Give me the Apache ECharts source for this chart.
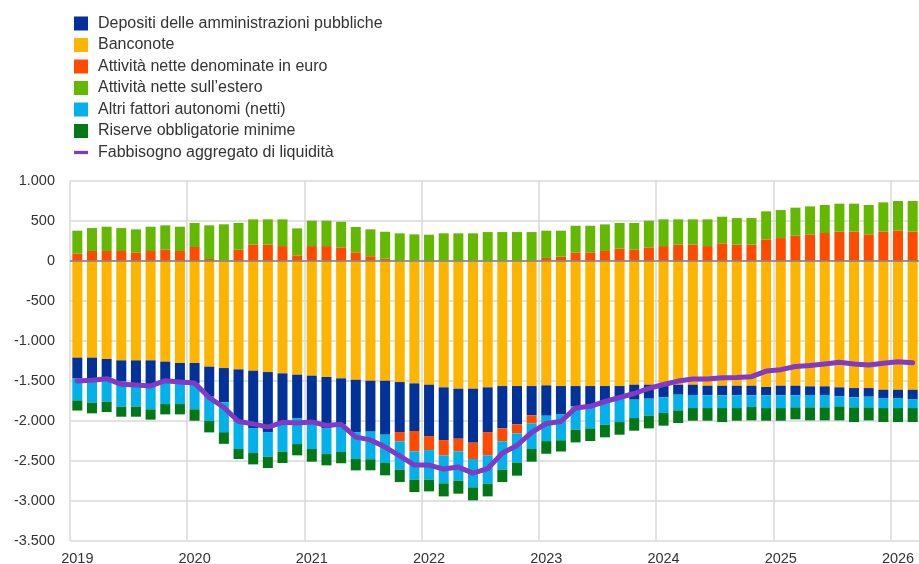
<!DOCTYPE html>
<html>
<head>
<meta charset="utf-8">
<script src="https://cdn.jsdelivr.net/npm/echarts@6/dist/echarts.min.js"></script>
<style>
  html, body { margin: 0; padding: 0; background: #ffffff; }
  #chart { width: 919px; height: 564px; }
</style>
</head>
<body>
<div id="chart"></div>
<script>
// Reserve maintenance periods (8 per year), 2019 to early 2026
const periods = [
  '2019 P1','2019 P2','2019 P3','2019 P4','2019 P5','2019 P6','2019 P7','2019 P8',
  '2020 P1','2020 P2','2020 P3','2020 P4','2020 P5','2020 P6','2020 P7','2020 P8',
  '2021 P1','2021 P2','2021 P3','2021 P4','2021 P5','2021 P6','2021 P7','2021 P8',
  '2022 P1','2022 P2','2022 P3','2022 P4','2022 P5','2022 P6','2022 P7','2022 P8',
  '2023 P1','2023 P2','2023 P3','2023 P4','2023 P5','2023 P6','2023 P7','2023 P8',
  '2024 P1','2024 P2','2024 P3','2024 P4','2024 P5','2024 P6','2024 P7','2024 P8',
  '2025 P1','2025 P2','2025 P3','2025 P4','2025 P5','2025 P6','2025 P7','2025 P8',
  '2026 P1','2026 P2'
];

// EUR billions
const banconote = [-1212,-1212,-1229,-1246,-1246,-1246,-1262,-1279,-1279,-1325,
  -1342,-1358,-1375,-1392,-1408,-1425,-1437,-1454,-1471,-1488,
  -1500,-1500,-1517,-1533,-1550,-1583,-1600,-1600,-1583,-1567,
  -1567,-1567,-1558,-1567,-1567,-1567,-1567,-1567,-1550,-1550,
  -1558,-1550,-1550,-1563,-1563,-1563,-1563,-1579,-1563,-1563,
  -1571,-1571,-1583,-1592,-1592,-1613,-1613,-1613];

const depositi = [-262,-259,-225,-266,-287,-308,-242,-233,-254,-375,
  -428,-654,-717,-750,-621,-542,-575,-638,-570,-654,
  -637,-675,-625,-596,-642,-659,-625,-675,-559,-529,
  -479,-366,-380,-356,-254,-254,-212,-150,-187,-175,
  -150,-125,-129,-120,-120,-120,-120,-104,-120,-120,
  -108,-108,-113,-116,-108,-104,-104,-117];

const attivitaEuro = [87,121,121,121,104,121,137,121,171,21,
  5,137,200,200,183,67,183,183,167,104,
  56,25,-116,-254,-175,-191,-158,-204,-291,-162,
  -113,-100,35,50,104,104,121,150,137,167,
  183,200,200,183,217,200,200,267,283,313,
  329,346,363,363,329,363,379,363];

const attivitaEstero = [288,287,304,287,288,304,305,304,300,421,
  450,334,317,317,334,337,317,317,320,317,
  336,337,342,329,325,342,342,342,358,358,
  358,358,340,325,333,333,333,321,334,333,
  334,317,317,334,333,333,333,350,350,350,
  350,350,350,350,367,366,367,383];

const altriFattori = [-272,-304,-308,-313,-292,-304,-288,-280,-325,-304,
  -374,-342,-312,-308,-359,-325,-342,-325,-350,-337,
  -345,-354,-354,-354,-370,-350,-367,-354,-354,-354,
  -366,-321,-317,-322,-291,-275,-271,-300,-230,-212,
  -196,-196,-163,-159,-159,-159,-146,-159,-159,-150,
  -154,-154,-125,-125,-134,-125,-125,-112];

const riserve = [-127,-133,-130,-125,-125,-129,-129,-129,-142,-142,
  -145,-125,-142,-142,-141,-141,-158,-141,-141,-142,
  -138,-154,-155,-155,-146,-163,-162,-163,-159,-155,
  -162,-158,-158,-140,-159,-158,-158,-158,-158,-159,
  -158,-158,-158,-158,-175,-158,-167,-158,-158,-150,
  -163,-163,-175,-184,-162,-175,-175,-175];

const fabbisogno = [-1505,-1495,-1475,-1545,-1555,-1565,-1500,-1515,-1530,-1710,
  -1835,-2010,-2040,-2080,-2020,-2030,-2015,-2060,-2045,-2205,
  -2240,-2330,-2440,-2555,-2555,-2605,-2580,-2655,-2600,-2405,
  -2310,-2145,-2035,-2010,-1840,-1820,-1760,-1710,-1660,-1595,
  -1548,-1505,-1480,-1478,-1462,-1460,-1450,-1380,-1362,-1322,
  -1310,-1290,-1270,-1290,-1305,-1282,-1262,-1275];

const yTicks = { min: -3500, max: 1000, step: 500 };

const names = {
  dep: 'Depositi delle amministrazioni pubbliche',
  ban: 'Banconote',
  eur: 'Attività nette denominate in euro',
  est: 'Attività nette sull\u2019estero',
  alt: 'Altri fattori autonomi (netti)',
  ris: 'Riserve obbligatorie minime',
  fab: 'Fabbisogno aggregato di liquidità'
};

const colors = {
  dep: '#003299', ban: '#ffb400', eur: '#ff4b00', est: '#65b800',
  alt: '#00b1ea', ris: '#007816', fab: '#8139c6'
};

const FONT = '"Liberation Sans", Arial, sans-serif';
const TEXT = '#333333';

function thousands(v) {
  const s = String(Math.abs(v)).replace(/\B(?=(\d{3})+(?!\d))/g, '.');
  return (v < 0 ? '-' : '') + s;
}

function barSeries(key, data) {
  return {
    name: names[key],
    type: 'bar',
    stack: 'fattori',
    data: data,
    barWidth: 10,
    itemStyle: { color: colors[key] },
    emphasis: { disabled: true }
  };
}

const zeroLine = {
  silent: true,
  symbol: ['none', 'none'],
  label: { show: false },
  lineStyle: { color: '#7f7f7f', width: 1.5, type: 'solid' },
  data: [{ yAxis: 0 }]
};

const series = [
  Object.assign(barSeries('ban', banconote), { markLine: zeroLine }),
  barSeries('dep', depositi),
  barSeries('eur', attivitaEuro),
  barSeries('est', attivitaEstero),
  barSeries('alt', altriFattori),
  barSeries('ris', riserve),
  {
    name: names.fab,
    type: 'line',
    data: fabbisogno,
    symbol: 'none',
    z: 5,
    lineStyle: { color: colors.fab, width: 5, cap: 'round', join: 'round' },
    itemStyle: { color: colors.fab },
    emphasis: { disabled: true }
  }
];

const chart = echarts.init(document.getElementById('chart'), null, { renderer: 'canvas' });

chart.setOption({
  animation: false,
  backgroundColor: '#ffffff',
  textStyle: { fontFamily: FONT },
  legend: {
    orient: 'vertical',
    left: 69,
    top: 10.5,
    itemWidth: 14,
    itemHeight: 14,
    itemGap: 5.5,
    selectedMode: false,
    textStyle: { fontFamily: FONT, fontSize: 16, color: TEXT, lineHeight: 16, padding: [0, 0, 0, 5] },
    data: [
      { name: names.dep, icon: 'rect' },
      { name: names.ban, icon: 'rect' },
      { name: names.eur, icon: 'rect' },
      { name: names.est, icon: 'rect' },
      { name: names.alt, icon: 'rect' },
      { name: names.ris, icon: 'rect' },
      { name: names.fab, icon: 'path://M0,0 M0,14 M0,5 L17,5 L17,9 L0,9 Z' }
    ]
  },
  grid: { left: 70, top: 180.7, width: 850, height: 360, outerBoundsMode: 'none', containLabel: false },
  xAxis: {
    type: 'category',
    data: periods,
    boundaryGap: true,
    axisLine: { show: false },
    axisTick: { show: false },
    axisLabel: {
      interval: 7,
      margin: 11,
      fontFamily: FONT,
      fontSize: 14.5,
      color: TEXT,
      formatter: v => v.slice(0, 4)
    },
    splitLine: { show: true, interval: 7, lineStyle: { color: '#d9d9d9', width: 1.5 } }
  },
  yAxis: {
    type: 'value',
    min: yTicks.min,
    max: yTicks.max,
    interval: yTicks.step,
    axisLine: { show: false },
    axisTick: { show: false },
    axisLabel: { margin: 15, fontFamily: FONT, fontSize: 14.5, color: TEXT, formatter: thousands },
    splitLine: { lineStyle: { color: '#d9d9d9', width: 1.5 } }
  },
  series: series
});
</script>
</body>
</html>
